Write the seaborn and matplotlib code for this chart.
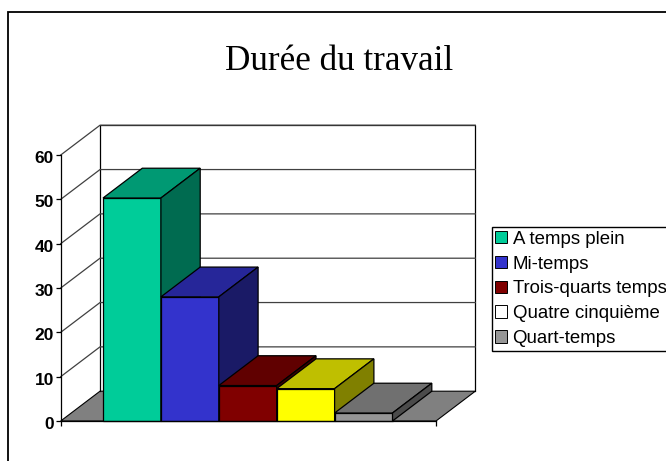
import matplotlib
matplotlib.use("Agg")
import matplotlib.pyplot as plt
import pandas as pd
import seaborn as sns
from matplotlib.patches import Patch, Polygon, Rectangle
from matplotlib.transforms import ScaledTranslation

series = ["A temps plein", "Mi-temps", "Trois-quarts temps", "Quatre cinquième", "Quart-temps"]
values = [50.3, 28, 8, 7.3, 1.8]
bar_colors = ["#00CC99", "#3333CC", "#800000", "#FFFF00", "#969696"]
top_colors = ["#009973", "#262699", "#600000", "#BFBF00", "#707070"]
side_colors = ["#006B50", "#1A1A66", "#400000", "#808000", "#4B4B4B"]
legend_colors = ["#00CC99", "#3333CC", "#800000", "#FFFFFF", "#969696"]
y_ticks = [0, 10, 20, 30, 40, 50, 60]

W, H = 666, 461
PX_CAT = 57.9    # pixels per category
PX_UNIT = 4.433  # pixels per y unit
DX = 39.3 / PX_CAT
DY = 29.8 / PX_UNIT
X0 = (60.7 - 103) / PX_CAT - 0.5
X1 = (436 - 103) / PX_CAT - 0.5

plt.rcParams["font.family"] = ["Liberation Sans", "DejaVu Sans"]

df = pd.DataFrame({"serie": series, "valeur": values})

fig = plt.figure(figsize=(W / 100, H / 100), dpi=100, facecolor="white")
ax = fig.add_axes([0, 0, 1, 1], facecolor="none")

sns.barplot(data=df, x="serie", y="valeur", hue="serie", hue_order=series,
            palette=bar_colors, width=1, dodge=False, legend=False,
            edgecolor="black", linewidth=0.9, saturation=1, ax=ax)

ax.set_xlim(-0.5 - 103 / PX_CAT, -0.5 + (W - 103) / PX_CAT)
ax.set_ylim(-(H - 421) / PX_UNIT, 421 / PX_UNIT)
ax.set_xlabel("")
ax.set_ylabel("")

# outer chart frame, runs off the picture on the right and at the bottom
fig.add_artist(Rectangle((8 / W, -0.1), 1, 1 - 12 / H + 0.1, transform=fig.transFigure,
                         fill=False, edgecolor="black", linewidth=1.3))

# floor and walls
ax.add_patch(Polygon([(X0, 0), (X1, 0), (X1 + DX, DY), (X0 + DX, DY)],
                     facecolor="#808080", edgecolor="black", linewidth=0.8, zorder=1))
ax.plot([X0 + DX, X0 + DX, X1 + DX, X1 + DX], [DY, 60 + DY, 60 + DY, DY],
        color="black", lw=0.9, zorder=1)
for v in y_ticks[1:]:
    ax.plot([X0, X0 + DX, X1 + DX], [v, v + DY, v + DY], color="#404040", lw=0.9, zorder=1)

# 3D faces on the bars seaborn drew
for i, bar in enumerate(ax.patches[:len(series)]):
    left, right, h = bar.get_x(), bar.get_x() + bar.get_width(), bar.get_height()
    bar.set_zorder(3 + i)
    ax.add_patch(Polygon([(left, h), (right, h), (right + DX, h + DY), (left + DX, h + DY)],
                         facecolor=top_colors[i], edgecolor="black", linewidth=0.9, zorder=3 + i))
    ax.add_patch(Polygon([(right, 0), (right + DX, DY), (right + DX, h + DY), (right, h)],
                         facecolor=side_colors[i], edgecolor="black", linewidth=0.9, zorder=3 + i))

for name in ["top", "right"]:
    ax.spines[name].set_visible(False)
ax.spines["left"].set_position(("data", X0))
ax.spines["left"].set_bounds(0, 60)
ax.spines["bottom"].set_position(("data", 0))
ax.spines["bottom"].set_bounds(X0, X1)
for s in ["left", "bottom"]:
    ax.spines[s].set_linewidth(0.9)
    ax.spines[s].set_zorder(10)
ax.set_yticks(y_ticks)
ax.set_yticklabels(y_ticks, fontsize=12.5, fontweight="bold")
ax.set_xticks([X0, X1])
ax.set_xticklabels(["", ""])
ax.tick_params(axis="both", length=3.5, width=0.9, pad=1.5)

# tick labels sit a little under their ticks in the original
shift = ScaledTranslation(0, -2 / 100, fig.dpi_scale_trans)
for lab in ax.get_yticklabels():
    lab.set_transform(lab.get_transform() + shift)

fig.text(339 / W, 1 - 61.5 / H, "Durée du travail", ha="center", va="center",
         fontsize=25.2, family=["Liberation Serif", "DejaVu Serif"])

handles = [Patch(facecolor=c, edgecolor="black", linewidth=0.7) for c in legend_colors]
ax.legend(handles, series, loc="upper left", bbox_to_anchor=(491.5 / W, 1 - 227 / H),
          bbox_transform=fig.transFigure, borderaxespad=0, fontsize=13.4, frameon=True,
          fancybox=False, framealpha=1, edgecolor="black", handlelength=0.65,
          handleheight=0.65, handletextpad=0.28, labelspacing=0.42, borderpad=0.2)

fig.savefig("out.png", dpi=100)
